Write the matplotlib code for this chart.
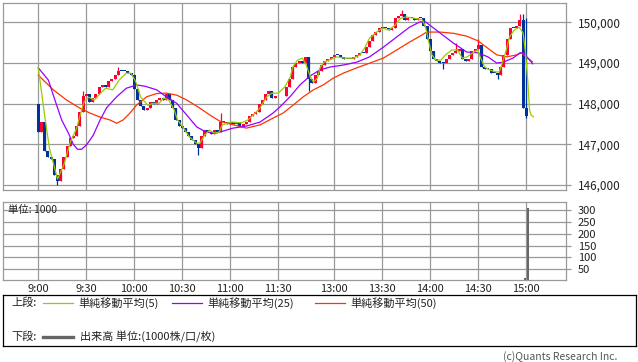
import matplotlib
matplotlib.use("Agg")
import matplotlib.pyplot as plt
import numpy as np

plt.rcParams['font.family'] = ['Noto Sans CJK JP', 'DejaVu Sans']

# ── data ─────────────────────────────────────────────────────────────────────
# x = minutes from 9:00; the 11:30-12:30 lunch break is squeezed to 5 units
first_open = 148000
am_times = list(range(0, 150, 2))
am_close = [147300, 147550, 146850, 146700, 146650, 146250, 146100, 146400, 146700, 146950,
            147150, 147200, 147450, 147800, 148200, 148250, 148050, 148150, 148250, 148400,
            148450, 148400, 148550, 148600, 148700, 148800, 148800, 148800, 148750, 148700,
            148350, 148100, 147950, 147850, 147900, 148050, 148000, 148100, 148150, 148100,
            148250, 148100, 147900, 147600, 147450, 147400, 147300, 147200, 147100, 147000,
            146900, 147200, 147350, 147300, 147250, 147350, 147300, 147550, 147550, 147500,
            147550, 147500, 147550, 147450, 147500, 147550, 147700, 147750, 147800, 148000,
            148100, 148250, 148300, 148150, 148200]
pm_times = list(range(155, 306, 2))
pm_close = [148400, 148600, 148900, 149000, 149050, 149000, 149150, 148600, 148500, 148700,
            148800, 148950, 149050, 149100, 149150, 149200, 149200, 149150, 149100, 149100,
            149100, 149150, 149200, 149250, 149250, 149400, 149550, 149700, 149750, 149850,
            149850, 149850, 149800, 149850, 150100, 150150, 150200, 150050, 150100, 150100,
            150050, 150100, 150100, 149900, 149600, 149300, 149100, 149050, 149000, 149000,
            149100, 149200, 149250, 149300, 149350, 149100, 149050, 149100, 149300, 149350,
            149450, 148900, 148850, 148850, 148750, 148750, 148700, 148900, 149200, 149600,
            149850, 149850, 149900, 150050, 147900, 147700]

# wicks that stick out beyond the bodies
bar_high = {28: 148300, 50: 148900, 114: 147770, 227: 150300, 261: 149500,
            275: 149600, 301: 150200, 303: 150200, 305: 150100}
bar_low = {12: 146000, 100: 146750, 169: 148300, 253: 148850, 287: 148600, 305: 147650}

ma5 = [(0, 148880), (4, 147700), (7, 146900), (12, 146150), (16, 146500), (20, 147060),
       (24, 147400), (26.5, 147770), (28.5, 148040), (31.5, 148160), (35, 148090),
       (39, 148260), (42, 148380), (46.5, 148340), (50.5, 148580), (55, 148750),
       (58, 148750), (61, 148530), (64, 148160), (68.5, 147960), (71.5, 148010),
       (75.5, 148010), (78.5, 148140), (81.5, 148090), (85, 147840), (87, 147600),
       (90.5, 147420), (94.5, 147180), (99, 147030), (101, 147030), (104, 147230),
       (107, 147350), (110, 147280), (113, 147300), (115, 147480), (120.5, 147550),
       (127, 147530), (131, 147600), (135.5, 147770), (138.5, 147890), (142.5, 148160),
       (146, 148260), (150, 148260), (154, 148410), (157.5, 148660), (159, 148900),
       (162, 149070), (165, 149120), (167.5, 148950), (170, 148660), (172, 148530),
       (174.5, 148630), (176, 148880), (178.5, 149020), (181.5, 149070), (186.5, 149150),
       (191.5, 149120), (197, 149120), (201, 149200), (204, 149370), (207, 149610),
       (211.5, 149760), (215, 149860), (219, 149810), (223, 149930), (226.5, 150100),
       (230, 150130), (235, 150100), (240, 150060), (242, 149890), (244, 149520),
       (246, 149200), (248.5, 149070), (251.5, 149070), (254.5, 149200), (258.5, 149320),
       (262, 149320), (265, 149120), (268, 149150), (271.5, 149250), (274.5, 149320),
       (276.5, 149120), (279, 148900), (282, 148830), (286, 148780), (288, 148780),
       (290, 149000), (292.5, 149320), (294.5, 149640), (297.5, 149810), (300.5, 149880),
       (303, 149740), (304.5, 149250), (306, 148510), (307, 147850), (308, 147720),
       (309.5, 147680)]

ma25 = [(0, 148880), (6.3, 148580), (10.4, 148090), (14.6, 147600), (18.8, 147280),
        (21.9, 147000), (24.5, 146880), (27, 146880), (30.2, 146990), (34.4, 147230),
        (38.6, 147600), (42.7, 147900), (49, 148170), (55, 148380), (61.5, 148460),
        (66.7, 148430), (74, 148340), (80, 148170), (86.5, 148010), (92.8, 147720),
        (99, 147430), (105, 147300), (111.5, 147280), (121.7, 147400), (130, 147450),
        (138.6, 147550), (146.7, 147770), (151, 147920), (157.3, 148170), (163.5, 148460),
        (169.8, 148680), (176, 148830), (182.3, 148900), (190.6, 148950), (199, 149020),
        (207, 149150), (215.7, 149390), (224, 149640), (232, 149880), (238.5, 150010),
        (242, 150010), (251, 149740), (259.4, 149490), (267.7, 149270), (274.8, 149250),
        (281, 149150), (286.5, 149000), (290.4, 149020), (296.7, 149120), (301, 149250),
        (303, 149250), (306, 149120), (309, 148980)]

ma50 = [(0, 148700), (9.4, 148340), (17.7, 148090), (26, 147890), (32.3, 147770),
        (38.6, 147670), (44.8, 147600), (49, 147520), (53, 147600), (57.3, 147770),
        (61.5, 147970), (67.7, 148170), (74, 148250), (80, 148260), (86.5, 148210),
        (92.8, 148090), (101, 147890), (107.3, 147720), (113.5, 147570), (121.9, 147480),
        (130, 147400), (138.6, 147480), (146.9, 147650), (153, 147770), (159.4, 147970),
        (165.6, 148170), (171.9, 148340), (178, 148460), (184.4, 148630), (190.6, 148750),
        (199, 148880), (207.3, 149000), (215.6, 149120), (224, 149320), (232.3, 149520),
        (238.6, 149660), (242.7, 149760), (251, 149760), (259.4, 149730), (267.7, 149660),
        (275, 149540), (280, 149390), (286.5, 149200), (292.8, 149150), (299, 149200),
        (302, 149250), (305, 149150), (308.8, 149030)]

vol_times = [304, 306]
vol_values = [15, 307]

tick_times = [0, 30, 60, 90, 120, 150, 185, 215, 245, 275, 305]
tick_labels = ["9:00", "9:30", "10:00", "10:30", "11:00", "11:30",
               "13:00", "13:30", "14:00", "14:30", "15:00"]
price_ticks = [146000, 147000, 148000, 149000, 150000]
vol_ticks = [50, 100, 150, 200, 250, 300]

# ── styling ──────────────────────────────────────────────────────────────────
UP = "#ff0033"
DOWN = "#003399"
GRID = "#999999"
C5, C25, C50 = "#99cc00", "#9900ff", "#ff3300"
XLIM = (-22.06, 329.8)

W, H = 638, 362
fig = plt.figure(figsize=(W / 100, H / 100), dpi=100)


def px_axes(x0, y0, x1, y1):
    return fig.add_axes([x0 / W, 1 - y1 / H, (x1 - x0) / W, (y1 - y0) / H])


def style_panel(ax):
    for s in ax.spines.values():
        s.set_color(GRID)
        s.set_linewidth(0.9)
    ax.set_xlim(*XLIM)
    ax.set_xticks(tick_times)
    ax.grid(True, color=GRID, linewidth=0.9)
    ax.set_axisbelow(True)
    ax.yaxis.tick_right()
    ax.tick_params(axis="y", length=3.6, width=0.9, color=GRID, pad=5,
                   labelcolor="#222222")
    ax.tick_params(axis="x", length=0, pad=3, labelcolor="#222222", labelsize=8)


# ── upper panel: candles + moving averages ───────────────────────────────────
ax1 = px_axes(3, 3, 566, 190)
style_panel(ax1)

times = np.array(am_times + pm_times, dtype=float)
closes = np.array(am_close + pm_close, dtype=float)
opens = np.concatenate([[first_open], closes[:-1]])
lo_body = np.minimum(opens, closes)
hi_body = np.maximum(opens, closes)
heights = np.maximum(hi_body - lo_body, 30)
colors = [UP if c > o else DOWN for o, c in zip(opens, closes)]

highs = np.array([bar_high.get(int(t), h) for t, h in zip(times, hi_body)])
lows = np.array([bar_low.get(int(t), l) for t, l in zip(times, lo_body)])
ax1.vlines(times, lows, highs, colors=colors, linewidth=0.9, zorder=2)
ax1.bar(times, heights, bottom=lo_body, width=1.9, color=colors,
        linewidth=0, zorder=2)

for series, col in [(ma50, C50), (ma25, C25), (ma5, C5)]:
    xs, ys = zip(*series)
    ax1.plot(xs, ys, color=col, linewidth=0.9, zorder=3)

ax1.set_ylim(145880, 150474)
ax1.set_yticks(price_ticks)
ax1.set_yticklabels([f"{v:,}" for v in price_ticks], fontsize=8.5)
ax1.set_xticklabels([])

# ── lower panel: volume ──────────────────────────────────────────────────────
ax2 = px_axes(3, 201.7, 566, 280)
style_panel(ax2)
ax2.bar(vol_times, vol_values, width=1.4, color="#666666", linewidth=0, zorder=2)
ax2.set_ylim(6, 333)
ax2.set_yticks(vol_ticks)
ax2.set_yticklabels([str(v) for v in vol_ticks], fontsize=8)
ax2.set_xticklabels(tick_labels)
ax2.text(0.009, 0.9, "単位: 1000", transform=ax2.transAxes, fontsize=7.5,
         ha="left", va="center", color="#222222")

# ── legend box ───────────────────────────────────────────────────────────────
axl = px_axes(3, 295, 636, 346)
axl.set_xlim(3, 636)
axl.set_ylim(346, 295)
axl.set_xticks([])
axl.set_yticks([])
for s in axl.spines.values():
    s.set_color("black")
    s.set_linewidth(0.9)

row1, row2 = 303, 336.5
axl.text(11, row1, "上段:", fontsize=8, va="center", color="#222222")
for x0, col, label in [(43, C5, "単純移動平均(5)"), (172, C25, "単純移動平均(25)"),
                       (315, C50, "単純移動平均(50)")]:
    axl.plot([x0, x0 + 30], [row1, row1], color=col, linewidth=0.9)
    axl.text(x0 + 35, row1, label, fontsize=8, va="center", color="#222222")
axl.text(11, row2, "下段:", fontsize=8, va="center", color="#222222")
axl.plot([43, 73], [row2, row2], color="#666666", linewidth=2.4)
axl.text(80, row2, "出来高 単位:(1000株/口/枚)", fontsize=8, va="center",
         color="#222222")

fig.text(617 / W, 1 - 357 / H, "(c)Quants Research Inc.", ha="right", va="center",
         fontsize=7.5, color="#555555")

fig.savefig("out.png", dpi=100)
